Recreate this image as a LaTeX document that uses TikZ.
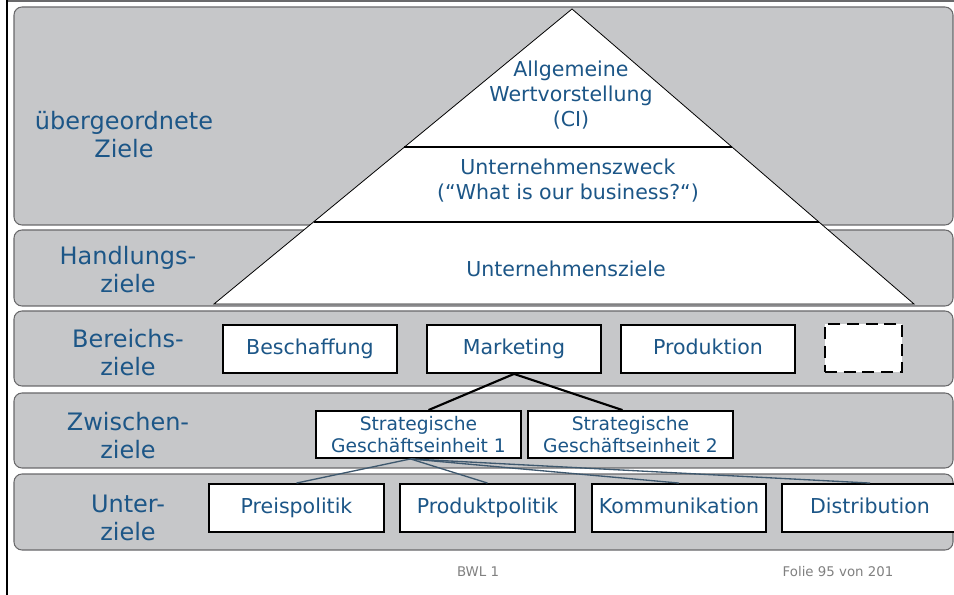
\documentclass[tikz,border=0pt]{standalone}
\usepackage{fontspec}
\setmainfont{DejaVu Sans}
\usetikzlibrary{calc}
\definecolor{bandgrau}{RGB}{198,199,201}
\definecolor{randgrau}{RGB}{105,105,107}
\definecolor{zielblau}{RGB}{28,86,135}
\definecolor{linienblau}{RGB}{62,88,110}
\definecolor{fussgrau}{RGB}{128,128,128}
\begin{document}
\begin{tikzpicture}[x=0.75pt,y=-0.75pt,
    band/.style={fill=bandgrau,draw=randgrau,line width=0.8pt,rounded corners=6pt},
    ebene/.style={text=zielblau,align=center,font=\fontsize{18}{21}\selectfont},
    pyr/.style={text=zielblau,align=center,font=\fontsize{15.4}{18.8}\selectfont},
    kasten/.style={draw,line width=1.4pt,fill=white,text=zielblau,inner sep=2pt},
    ziel/.style={kasten,minimum width=130.5pt,minimum height=36pt,
      text height=11.4pt,text depth=3.4pt,font=\fontsize{15.4}{18.8}\selectfont},
    sge/.style={kasten,minimum width=153.75pt,minimum height=35.25pt,align=center,
      font=\fontsize{14}{16.5}\selectfont},
    fuss/.style={text=fussgrau,font=\fontsize{10}{12}\selectfont}]
    \useasboundingbox (0,0) rectangle (954,595);
    \draw[randgrau,line width=0.8pt] (8,1) -- (954,1);
    \draw[line width=1.5pt] (7,0) -- (7,595);
    \foreach \oben/\unten in {7/225,230/306,311/386,393/468,474/550}
      \draw[band] (14,\oben) rectangle (953,\unten);
    \node[ebene] (uebergeordnet) at (124,135) {übergeordnete\\Ziele};
    \node[ebene] (handlung) at (128,270) {Handlungs-\\ziele};
    \node[ebene] (bereich) at (128,353) {Bereichs-\\ziele};
    \node[ebene] (zwischen) at (128,436) {Zwischen-\\ziele};
    \node[ebene] (unter) at (128,518) {Unter-\\ziele};
    \coordinate (spitze) at (572,9);
    \coordinate (basisL) at (214,304);
    \coordinate (basisR) at (914,304);
    \filldraw[fill=white,line width=0.6pt] (basisL) -- (spitze) -- (basisR) -- cycle;
    \draw[line width=1.3pt] ($(basisL)!0.532!(spitze)$) -- ($(basisR)!0.532!(spitze)$);
    \draw[line width=1.3pt] ($(basisL)!0.278!(spitze)$) -- ($(basisR)!0.278!(spitze)$);
    \node[pyr] (wert) at (571,95) {Allgemeine\\Wertvorstellung\\(CI)};
    \node[pyr] (zweck) at (568,181) {Unternehmenszweck\\(“What is our business?“)};
    \node[pyr] (uziele) at (566,269) {Unternehmensziele};
    \node[ziel] (beschaffung) at (310,349) {Beschaffung};
    \node[ziel] (marketing) at (514,349) {Marketing};
    \node[ziel] (produktion) at (708,349) {Produktion};
    \node[ziel,dash pattern=on 9pt off 5pt,minimum width=57.75pt] (offen) at (863.5,348) {};
    \node[sge] (sgeA) at (418.5,434.5) {Strategische\\Geschäftseinheit 1};
    \node[sge] (sgeB) at (630.5,434.5) {Strategische\\Geschäftseinheit 2};
    \node[ziel,minimum width=131.25pt] (preis) at (296.5,508) {Preispolitik};
    \node[ziel,minimum width=131.25pt] (produkt) at (487.5,508) {Produktpolitik};
    \node[ziel] (komm) at (679,508) {Kommunikation};
    \node[ziel,minimum width=132pt] (distr) at (870,508) {Distribution};
    \draw[line width=1.6pt] (marketing.south) -- ($(sgeA.north)+(10,0)$);
    \draw[line width=1.6pt] (marketing.south) -- ($(sgeB.north)+(-8,0)$);
    \foreach \ziel in {preis,produkt,komm,distr}
      \draw[linienblau,line width=1pt] ($(sgeA.south)+(-8,0)$) -- (\ziel.north);
    \node[fuss] (kurs) at (478,572) {BWL 1};
    \node[fuss] (folie) at (838,572) {Folie 95 von 201};
\end{tikzpicture}
\end{document}
